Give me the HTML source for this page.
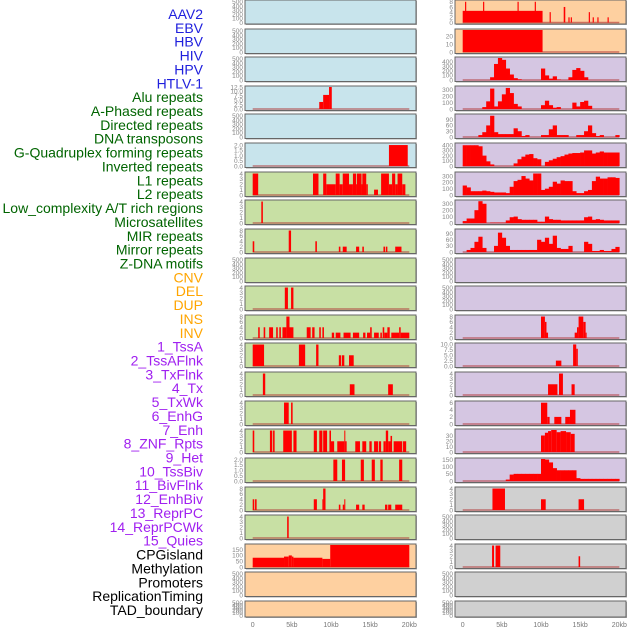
<!DOCTYPE html>
<html><head><meta charset="utf-8"><style>
html,body{margin:0;padding:0;background:#fff;}
svg{display:block;font-family:"Liberation Sans",sans-serif;}
</style></head><body>
<svg id="chart" width="630" height="630" viewBox="0 0 630 630"></svg>
<script>
// ---------- data ----------
const trackLabels = ["AAV2","EBV","HBV","HIV","HPV","HTLV-1","Alu repeats","A-Phased repeats","Directed repeats","DNA transposons","G-Quadruplex forming repeats","Inverted repeats","L1 repeats","L2 repeats","Low_complexity A/T rich regions","Microsatellites","MIR repeats","Mirror repeats","Z-DNA motifs","CNV","DEL","DUP","INS","INV","1_TssA","2_TssAFlnk","3_TxFlnk","4_Tx","5_TxWk","6_EnhG","7_Enh","8_ZNF_Rpts","9_Het","10_TssBiv","11_BivFlnk","12_EnhBiv","13_ReprPC","14_ReprPCWk","15_Quies","CPGisland","Methylation","Promoters","ReplicationTiming","TAD_boundary"];
const labelColors = ["#2020dd","#2020dd","#2020dd","#2020dd","#2020dd","#2020dd","#006400","#006400","#006400","#006400","#006400","#006400","#006400","#006400","#006400","#006400","#006400","#006400","#006400","#ffa500","#ffa500","#ffa500","#ffa500","#ffa500","#a020f0","#a020f0","#a020f0","#a020f0","#a020f0","#a020f0","#a020f0","#a020f0","#a020f0","#a020f0","#a020f0","#a020f0","#a020f0","#a020f0","#a020f0","#000","#000","#000","#000","#000"];
const xTickValues = [0,5,10,15,20];
const xTickLabels = ["0","5kb","10kb","15kb","20kb"];

// segments: [startKb, endKb, value]
const hivSegs = [[8.5,9.0,4],[9.0,9.75,8],[9.75,10.1,12.5]];
const htlvSegs = [[17.4,19.8,2]];
const aluSegs = [[0,0.7,4],[7.7,8.4,4],[9.0,9.4,4],[9.4,10.6,2],[10.6,11.1,4],[11.1,11.5,2],[11.5,12.3,4],[12.3,12.8,2],[12.8,13.2,4],[13.2,13.3,2],[13.3,13.9,4],[13.9,14.0,2],[14.0,14.5,4],[14.5,14.7,2],[15.5,16.0,1],[16.4,17.4,4],[17.4,17.8,2],[17.8,18.2,4],[18.2,18.5,2],[18.5,19.1,4],[19.1,19.5,2]];
const aPhasedSegs = [[1.1,1.3,4]];
const directedSegs = [[0,0.2,4],[4.6,4.9,8],[8.0,8.2,4],[11.0,11.2,2],[11.5,12.0,2],[13.2,13.6,2],[14.0,14.2,2],[16.7,16.9,2],[17.0,17.2,2],[18.2,19.0,2]];
const gquadSegs = [[4.1,4.5,4],[4.9,5.2,4]];
const invertedSegs = [[0.7,0.9,4],[1.4,1.6,4],[2.1,2.6,4],[3.0,3.2,4],[3.4,3.6,4],[3.8,4.3,4],[4.3,4.7,8],[4.7,5.2,4],[6.9,7.4,4],[7.6,7.9,4],[8.5,8.7,4],[8.9,9.1,4],[10.1,10.4,2],[10.6,11.2,2],[11.6,12.5,2],[12.8,13.6,2],[14.1,14.4,2],[14.6,15.0,2],[15.0,15.2,4],[15.5,16.1,2],[16.3,16.5,2],[16.6,16.8,4],[16.8,17.2,2],[17.2,17.5,4],[17.7,18.7,2],[18.7,18.9,4],[18.9,20.0,2]];
const l1Segs = [[0,1.45,4],[5.9,6.7,4],[8.1,8.4,4],[11.0,11.3,2],[11.4,11.7,2],[12.3,12.9,2]];
const l2Segs = [[1.3,1.6,4],[12.4,13.0,2],[17.3,17.9,2]];
const lowComplexSegs = [[4.0,4.6,4],[4.9,5.1,4]];
const microsatSegs = [[0,0.2,4],[2.2,2.5,4],[2.6,2.8,4],[3.9,5.0,4],[5.2,5.6,4],[7.8,8.2,4],[8.5,8.9,4],[9.0,9.5,4],[9.8,10.0,4],[10.0,10.4,2],[10.8,11.7,2],[11.7,11.8,4],[11.8,12.0,2],[13.1,13.7,2],[14.0,14.5,2],[14.9,15.2,2],[15.5,16.0,2],[16.1,16.4,2],[16.7,17.0,2],[17.0,17.3,4],[17.3,17.6,2],[17.6,17.8,3],[18.0,19.1,2],[19.2,19.6,2]];
const mirSegs = [[10.3,10.8,2],[11.4,11.8,2],[13.8,14.2,2],[15.2,15.6,2],[16.3,16.6,2],[18.7,19.1,2]];
const mirrorSegs = [[0,0.2,4],[0.3,0.5,4],[7.8,8.2,4],[8.9,9.0,4],[9.0,9.3,8],[11.0,11.2,2],[11.5,11.7,2],[11.7,11.8,4],[13.2,13.6,2],[14.0,14.3,2],[16.9,17.2,2],[17.3,17.7,2],[18.2,19.1,2]];
const zdnaSegs = [[4.4,4.6,4]];
const cnvSegs = [[0,4.0,80],[4.0,4.6,90],[4.6,5.0,100],[5.0,5.2,90],[5.2,8.9,80],[8.9,9.9,70],[9.9,20,190]];
const insSegs = [[0,10.2,4.5],[0.3,0.45,8],[2.6,2.75,8],[7.0,7.15,8],[9.2,9.35,8],[11.1,11.25,4],[12.9,13.1,6],[13.5,13.65,2],[13.8,13.95,2],[16.1,16.25,4],[16.6,16.75,2],[17.2,17.35,2],[18.5,18.65,2]];
const invSegs = [[0,10.2,30]];
const tssBivSegs = [[10.0,10.5,8],[10.5,10.7,6],[10.7,10.9,2],[14.3,14.6,2],[14.6,14.8,4],[14.8,15.4,8],[15.4,15.7,6],[15.7,15.8,2]];
const bivFlnkSegs = [[11.9,12.6,2.5],[14.1,14.5,10],[14.5,14.7,8]];
const enhBivSegs = [[10.9,12.1,2],[12.3,12.8,4],[13.9,14.3,2]];
const reprPCSegs = [[10.0,10.8,6],[10.8,11.1,2],[11.7,12.6,2],[13.1,13.7,2],[13.7,14.4,4]];
const reprPCWkSegs = [[10.0,10.5,30],[10.5,10.9,35],[10.9,11.3,38],[11.3,12.0,40],[12.0,12.5,36],[12.5,13.2,38],[13.2,13.8,36],[13.8,14.3,33]];
const cpgSegs = [[3.8,5.4,4],[10.0,10.6,2],[14.8,15.5,2]];
const promoterSegs = [[3.75,4.0,4],[4.2,4.8,4],[14.8,15.0,2]];

// profiles: 40 bins of 0.5kb each
const tssAProfile = [0,0,0,0,0,0,0,60,350,480,440,250,120,40,15,0,0,0,0,0,250,100,30,80,10,0,0,60,220,260,200,60,0,0,0,0,0,0,0,0];
const tssAFlnkProfile = [0,0,0,0,0,30,120,320,40,120,230,330,250,80,40,0,0,0,0,0,60,130,60,20,30,0,0,0,100,40,110,130,50,0,0,0,0,0,0,0];
const txFlnkProfile = [0,0,0,0,10,25,60,110,25,15,15,15,15,45,30,5,10,0,0,0,10,10,40,60,10,10,10,0,0,10,10,30,60,20,5,10,0,0,0,10];
const txProfile = [400,400,400,400,380,200,90,30,0,0,0,0,0,50,130,180,220,230,150,130,0,80,110,140,170,190,220,240,250,250,260,300,300,240,260,280,260,260,260,260];
const txWkProfile = [150,120,60,60,60,70,60,50,40,40,40,30,130,220,240,300,260,230,340,340,80,100,130,210,180,230,220,220,60,30,30,60,80,220,290,260,260,280,280,270];
const enhGProfile = [30,70,70,200,340,300,0,5,5,5,5,40,90,100,60,50,50,50,50,20,20,100,60,50,50,40,40,40,40,40,40,90,100,50,60,50,40,40,40,40];
const enhProfile = [0,10,20,50,75,20,0,0,30,95,70,30,10,10,10,10,10,10,10,60,50,70,40,80,20,15,15,30,0,0,0,50,40,5,5,10,5,5,15,25];
const quiesProfile = [0,0,0,0,0,0,0,0,0,0,0,10,45,50,50,50,50,50,50,50,160,150,130,90,75,75,75,75,75,20,15,15,15,15,15,15,15,15,15,15];

// y ranges & tick lists per track
const emptyTicks = [0,100,200,300,400,500];
const trackYMax = [520,520,520,12.5,520,2.1,4.1,4.1,8.2,520,4.1,8.2,4.1,4.1,4.1,4.1,2.05,8.2,4.1,190,520,520, 8.3,28,480,345,114,424,348,343,108,520,520,8.2,10.2,4.1,6.2,40,154,4.1,520,4.1,520,520];
const trackTicks = [emptyTicks,emptyTicks,emptyTicks,[0,2.5,5,7.5,10,12.5],emptyTicks,[0,0.5,1,1.5,2],[0,1,2,3,4],[0,1,2,3,4],[0,2,4,6,8],emptyTicks,[0,1,2,3,4],[0,2,4,6,8],[0,1,2,3,4],[0,1,2,3,4],[0,1,2,3,4],[0,1,2,3,4],[0,0.5,1,1.5,2],[0,2,4,6,8],[0,1,2,3,4],[0,50,100,150],emptyTicks,emptyTicks,
 [0,2,4,6,8],[0,10,20],[0,100,200,300,400],[0,100,200,300],[0,30,60,90],[0,100,200,300,400],[0,100,200,300],[0,100,200,300],[0,30,60,90],emptyTicks,emptyTicks,[0,2,4,6,8],[0,2.5,5,7.5,10],[0,1,2,3,4],[0,2,4,6],[0,10,20,30],[0,50,100,150],[0,1,2,3,4],emptyTicks,[0,1,2,3,4],emptyTicks,emptyTicks];
const trackDecimals = {3:1,5:1,16:1,34:1};
const trackSegs = {3:hivSegs,5:htlvSegs,6:aluSegs,7:aPhasedSegs,8:directedSegs,10:gquadSegs,11:invertedSegs,12:l1Segs,13:l2Segs,14:lowComplexSegs,15:microsatSegs,16:mirSegs,17:mirrorSegs,18:zdnaSegs,19:cnvSegs,22:insSegs,23:invSegs,33:tssBivSegs,34:bivFlnkSegs,35:enhBivSegs,36:reprPCSegs,37:reprPCWkSegs,39:cpgSegs,41:promoterSegs};
const trackProfiles = {24:tssAProfile,25:tssAFlnkProfile,26:txFlnkProfile,27:txProfile,28:txWkProfile,29:enhGProfile,30:enhProfile,38:quiesProfile};
const trackBg = ["#c8e4ec","#c8e4ec","#c8e4ec","#c8e4ec","#c8e4ec","#c8e4ec","#c8e0a4","#c8e0a4","#c8e0a4","#c8e0a4","#c8e0a4","#c8e0a4","#c8e0a4","#c8e0a4","#c8e0a4","#c8e0a4","#c8e0a4","#c8e0a4","#c8e0a4","#fed0a0","#fed0a0","#fed0a0","#fed0a0","#fed0a0","#d5c6e2","#d5c6e2","#d5c6e2","#d5c6e2","#d5c6e2","#d5c6e2","#d5c6e2","#d5c6e2","#d5c6e2","#d5c6e2","#d5c6e2","#d5c6e2","#d5c6e2","#d5c6e2","#d5c6e2","#d0d0d0","#d0d0d0","#d0d0d0","#d0d0d0","#d0d0d0"];

// ---------- drawing ----------
const NS = "http://www.w3.org/2000/svg";
const svg = document.getElementById("chart");
function mk(tag, attrs, parent){const e=document.createElementNS(NS,tag);for(const k in attrs)e.setAttribute(k,attrs[k]);(parent||svg).appendChild(e);return e;}
const colLeft=[245,455], panelW=171;
function xScale(col,kb){return colLeft[col]+7.7+kb*7.83;}
function rowTop(r){return r===0?0:Math.round(r*28.62);}
function rowH(r){return r===0?24:(r===21?16:24.5);}

// labels
trackLabels.forEach((t,i)=>{
  const el=mk("text",{x:203,y:19+i*13.86,"text-anchor":"end","font-size":"14",fill:labelColors[i]});
  el.textContent=t;
  
  
});

for(let i=0;i<44;i++){
  const col=i<22?0:1, r=i%22;
  const top=rowTop(r), h=rowH(r), left=colLeft[col];
  const g=mk("g",{});
  
  
  mk("rect",{x:left+1,y:top+1,width:panelW,height:h,fill:"#aaa"},g);
  mk("rect",{x:left,y:top,width:panelW,height:h,fill:trackBg[i],stroke:"#666","stroke-width":1},g);
  const ymax=trackYMax[i];
  const y0=top+h-1.5, span=h-2.5;
  const yS=v=>y0-Math.min(v,ymax)/ymax*span;
  const hasData = trackSegs[i]||trackProfiles[i];
  if(hasData){
    const bl=mk("line",{x1:xScale(col,0),x2:xScale(col,20),y1:y0,y2:y0,stroke:"#b03030","stroke-width":1.5,opacity:0.6},g);
    
    
  }
  if(trackSegs[i]){
    trackSegs[i].forEach(s=>{
      const b=mk("rect",{x:xScale(col,s[0]),y:yS(s[2]),width:Math.max(1,xScale(col,s[1])-xScale(col,s[0])),height:y0-yS(s[2]),fill:"#ff0000"},g);
      
      
    });
  }
  if(trackProfiles[i]){
    trackProfiles[i].forEach((v,k)=>{
      if(v<=0) return;
      const b=mk("rect",{x:xScale(col,k*0.5),y:yS(v),width:xScale(col,0.5)-xScale(col,0)+0.3,height:y0-yS(v),fill:"#ff0000"},g);
      
      
    });
  }
  trackTicks[i].forEach(t=>{
    const tx=mk("text",{x:left-2,y:yS(t)+2.3,"text-anchor":"end","font-size":"6.5",fill:"#888"},g);
    tx.textContent = trackDecimals[i] ? t.toFixed(1) : String(t);
    
    
  });
}
// x axes
for(let col=0;col<2;col++){
  xTickValues.forEach((v,k)=>{
    const tx=mk("text",{x:xScale(col,v),y:627,"text-anchor":"middle","font-size":"7",fill:"#777"});
    tx.textContent=xTickLabels[k];
    
    
  });
}
</script>
</body></html>
